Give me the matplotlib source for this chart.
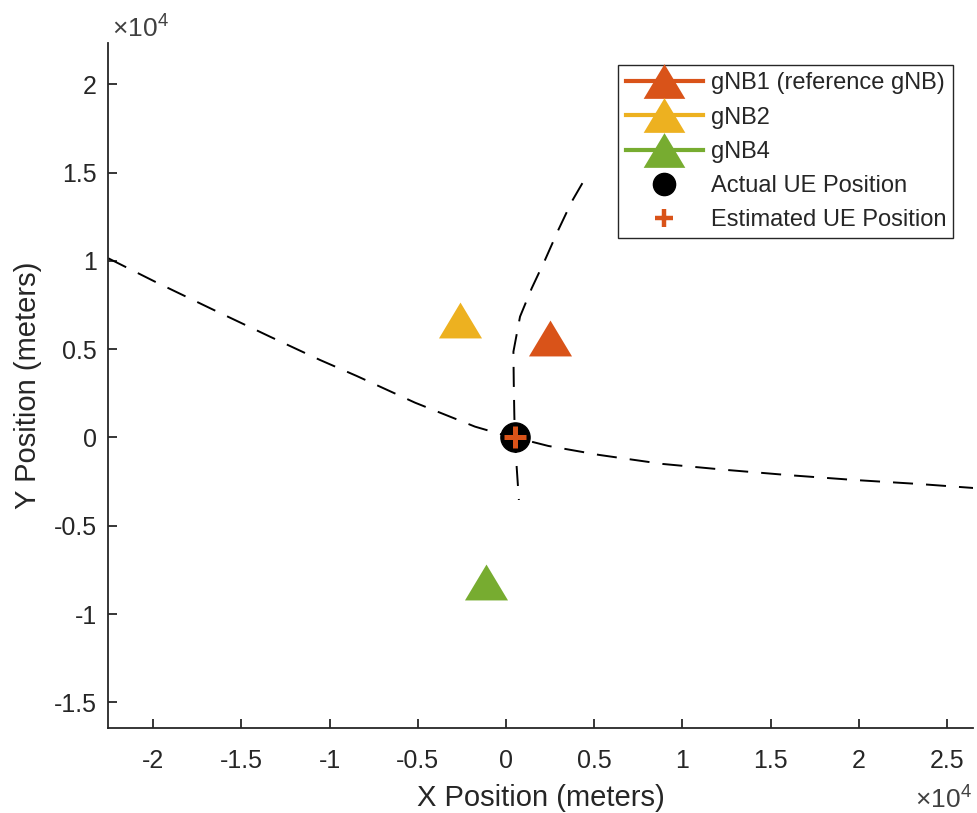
import matplotlib
matplotlib.use('Agg')
import matplotlib.pyplot as plt
from matplotlib.lines import Line2D
from matplotlib.path import Path

plt.rcParams['font.family'] = ['Liberation Sans', 'DejaVu Sans']
plt.rcParams['mathtext.fontset'] = 'custom'
plt.rcParams['mathtext.rm'] = 'Liberation Sans'

# ---------------- data (meters) ----------------
gnb_labels = ['gNB1 (reference gNB)', 'gNB2', 'gNB4']
gnb_x = [2500, -2600, -1160]
gnb_y = [5650, 6650, -8180]
gnb_colors = ['#D95319', '#EDB120', '#77AC30']

ue_actual_x = [500]
ue_actual_y = [0]
ue_est_x = [500]
ue_est_y = [0]

# hyperbola gNB1 / gNB4
hyp14_x = [-22545, -19898, -16684, -13379, -10544, -8464, -5159, -1757, -340, 500,
           2398, 5289, 8883, 12511, 16100, 19728, 23373, 26474]
hyp14_y = [10147, 8822, 7276, 5708, 4388, 3482, 1971, 612, 198, 0,
           -481, -991, -1501, -1840, -2140, -2407, -2633, -2860]

# hyperbola gNB1 / gNB2
hyp12_x = [4330, 3724, 2965, 2211, 1457, 794, 420, 440, 470, 500, 590, 730]
hyp12_y = [14400, 13352, 11750, 10051, 8449, 6840, 4858, 3069, 1370, 0, -1461, -3539]

x_lim = [-22560, 26470]
y_lim = [-16470, 22320]
x_ticks = [-20000, -15000, -10000, -5000, 0, 5000, 10000, 15000, 20000, 25000]
x_tick_labels = ['-2', '-1.5', '-1', '-0.5', '0', '0.5', '1', '1.5', '2', '2.5']
y_ticks = [-15000, -10000, -5000, 0, 5000, 10000, 15000, 20000]
y_tick_labels = ['-1.5', '-1', '-0.5', '0', '0.5', '1', '1.5', '2']

# ---------------- figure ----------------
W, H = 977, 813
fig = plt.figure(figsize=(W / 100, H / 100), dpi=100)
ax = fig.add_axes([108 / W, 1 - 728.3 / H, (973 - 108) / W, (728.3 - 43.3) / H])

tri = Path([(0, 0.5), (-0.6, -0.5), (0.6, -0.5), (0, 0.5)],
           [Path.MOVETO, Path.LINETO, Path.LINETO, Path.CLOSEPOLY])

dash_kw = dict(color='black', lw=1.4, dashes=(10.3, 6.7))
ax.plot(hyp14_x, hyp14_y, **dash_kw, zorder=2)
ax.plot(hyp12_x, hyp12_y, **dash_kw, zorder=2)

for gx, gy, c in zip(gnb_x, gnb_y, gnb_colors):
    ax.plot([gx], [gy], linestyle='none', marker=tri, ms=31, mfc=c, mec=c, mew=0, zorder=3)

ax.plot(ue_actual_x, ue_actual_y, linestyle='none', marker='o', ms=21, mfc='black',
        mec='black', mew=1, zorder=4)
ax.plot(ue_est_x, ue_est_y, linestyle='none', marker='+', ms=16, mec='#D95319',
        mew=3.6, zorder=5)

ax.set_xlim(x_lim)
ax.set_ylim(y_lim)
ax.set_xticks(x_ticks)
ax.set_xticklabels(x_tick_labels)
ax.set_yticks(y_ticks)
ax.set_yticklabels(y_tick_labels)

axc = '#262626'
for s in ['top', 'right']:
    ax.spines[s].set_visible(False)
for s in ['left', 'bottom']:
    ax.spines[s].set_color(axc)
    ax.spines[s].set_linewidth(1.3)
ax.tick_params(direction='in', length=6.5, width=1.3, color=axc, labelcolor=axc,
               labelsize=18)
ax.tick_params(axis='x', pad=15)
ax.tick_params(axis='y', pad=8)

ax.set_xlabel('X Position (meters)', fontsize=21, color=axc)
ax.set_ylabel('Y Position (meters)', fontsize=21, color=axc)
ax.xaxis.set_label_coords(0.5, -0.082)
ax.yaxis.set_label_coords(-0.076, 0.5)

fig.text(112 / W, 1 - 37 / H, '×10$^{4}$', fontsize=19, color='#404040', ha='left', va='baseline')
fig.text(972 / W, 1 - 808 / H, '×10$^{4}$', fontsize=19, color='#404040', ha='right', va='baseline')

handles = []
for c in gnb_colors:
    handles.append(Line2D([], [], color=c, lw=3, marker=tri, ms=30, mfc=c, mec=c, mew=0))
handles.append(Line2D([], [], linestyle='none', marker='o', ms=16, mfc='black', mec='black'))
handles.append(Line2D([], [], linestyle='none', marker='+', ms=13, mec='#D95319', mew=3.2))
labels = gnb_labels + ['Actual UE Position', 'Estimated UE Position']

leg = ax.legend(handles, labels, loc='upper right', bbox_to_anchor=(0.977, 0.968),
                borderaxespad=0, fontsize=17, frameon=True, fancybox=False,
                edgecolor=axc, framealpha=1, handlelength=3.3, handletextpad=0.3,
                labelspacing=0.52, borderpad=0.3, numpoints=1)
leg.get_frame().set_linewidth(1.0)
for t in leg.get_texts():
    t.set_color(axc)

fig.savefig('out.png', dpi=100)
